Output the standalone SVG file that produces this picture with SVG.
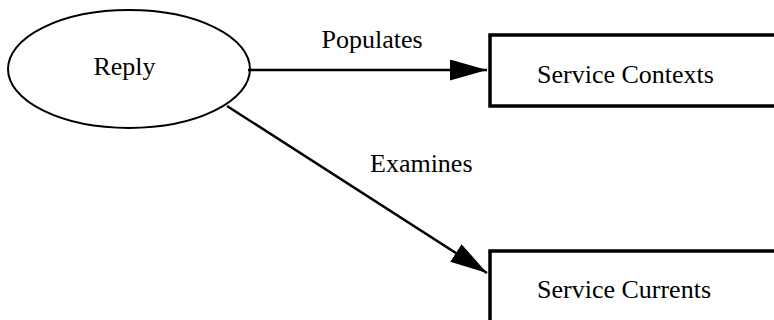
<svg xmlns="http://www.w3.org/2000/svg" width="774" height="320" viewBox="0 0 774 320">
  <style>
    .shape { fill: #ffffff; stroke: #000000; }
    .lbl { font-family: "Liberation Serif", "Times New Roman", serif; font-size: 26px; fill: #000000; }
    .edge { stroke: #000000; stroke-width: 2.5; fill: none; }
  </style>
  <defs>
    <marker id="arrow" markerUnits="userSpaceOnUse" markerWidth="40" markerHeight="24" refX="37" refY="10.5" orient="auto">
      <path d="M0,0 L37,10.5 L0,21 Z" fill="#000000"/>
    </marker>
  </defs>
  <rect width="774" height="320" fill="#ffffff"/>
  <g id="node-reply">
    <ellipse class="shape" cx="129" cy="69" rx="121" ry="59" stroke-width="2"/>
    <text class="lbl" x="124.5" y="75" text-anchor="middle">Reply</text>
  </g>
  <g id="node-service-contexts">
    <rect class="shape" x="490" y="35" width="300" height="71" stroke-width="3.5"/>
    <text class="lbl" x="537" y="83">Service Contexts</text>
  </g>
  <g id="node-service-currents">
    <rect class="shape" x="490" y="251" width="300" height="100" stroke-width="3.5"/>
    <text class="lbl" x="537" y="297.5">Service Currents</text>
  </g>
  <g id="connectors">
    <line class="edge" x1="248" y1="70" x2="487" y2="70" marker-end="url(#arrow)"/>
    <line class="edge" x1="227" y1="106" x2="487" y2="273" marker-end="url(#arrow)"/>
    <text class="lbl" x="321.5" y="48">Populates</text>
    <text class="lbl" x="370" y="172">Examines</text>
  </g>
</svg>
